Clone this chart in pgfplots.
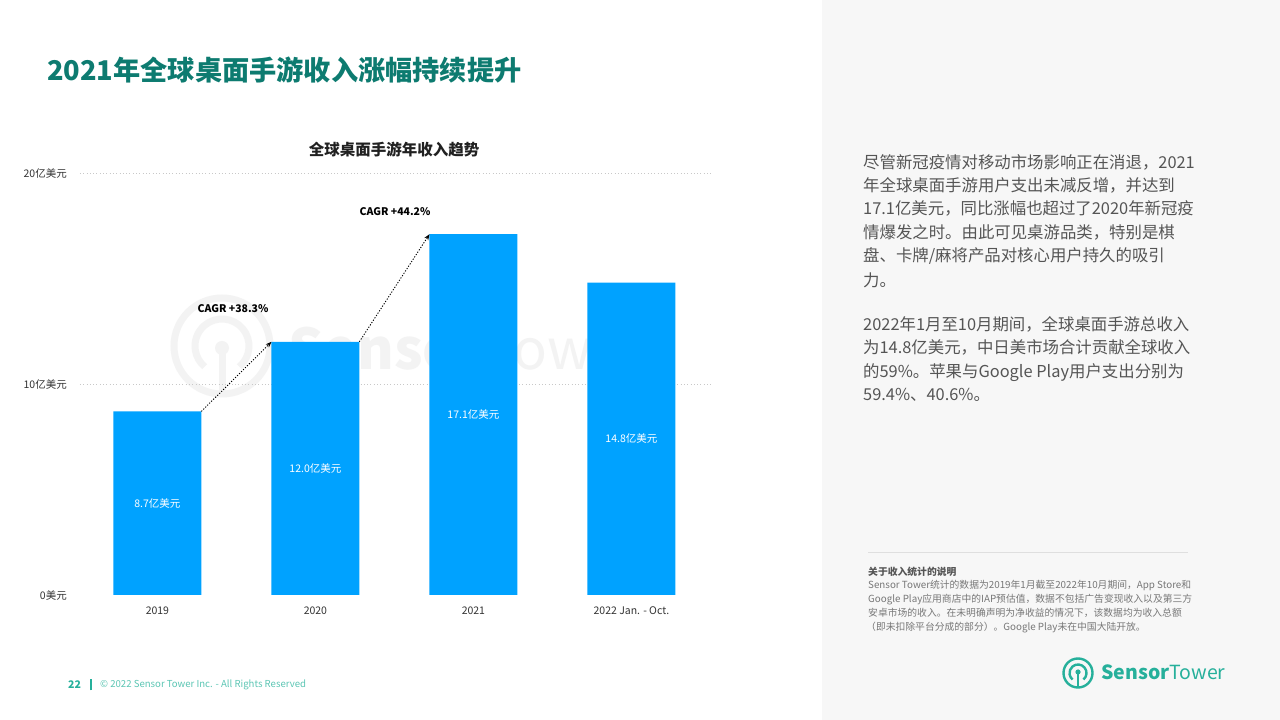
\documentclass[border=0pt]{standalone}
\usepackage{fontspec}
\setmainfont{Noto Sans CJK SC}
\usepackage{pgfplots}
\pgfplotsset{compat=1.18}
\usetikzlibrary{arrows.meta}
\definecolor{barblue}{HTML}{00A2FF}
\definecolor{titleteal}{HTML}{0D7B70}
\definecolor{logoteal}{HTML}{26B09B}
\definecolor{footteal}{HTML}{5CC6B4}
\definecolor{panel}{HTML}{F7F7F7}
\definecolor{wm}{HTML}{F3F3F3}
\definecolor{gridgray}{HTML}{C8C8C8}
\definecolor{bodygray}{HTML}{555555}
\definecolor{notegray}{HTML}{777777}
\definecolor{labeldark}{HTML}{333333}
\newcommand{\fs}[1]{\fontsize{#1}{#1}\selectfont}
\pgfplotsset{/pgf/number format/assume math mode=true}

\begin{document}
\begin{tikzpicture}[x=1pt,y=1pt]
\fill[white] (0,0) rectangle (1280,720);
\path[use as bounding box] (0,0) rectangle (1280,720);
\fill[panel] (822,0) rectangle (1280,720);

% page title
\node[anchor=west, inner sep=0, text=titleteal, font=\fs{27.2}\bfseries] at (47,650) {2021年全球桌面手游收入涨幅持续提升};

% watermark behind the bars
\begin{scope}[draw=wm, line width=7]
  \draw (222,374) circle (48);
  \draw ([shift={(-50:27)}]222,374) arc[start angle=-50, end angle=230, radius=27];
  \draw (222,372) -- (222,329);
  \fill[wm] (222,372) circle (7);
\end{scope}
\node[anchor=base west, inner sep=0, text=wm, font=\fs{56}] at (288,350) {\textbf{Sensor}Tower};

% chart title
\node[inner sep=0, text=black!87, font=\fs{15.5}\bfseries] at (394,570) {全球桌面手游年收入趋势};

\begin{axis}[
  at={(80pt,125pt)}, anchor=south west,
  scale only axis, width=632pt, height=422pt,
  xmin=-0.49, xmax=3.51, ymin=0, ymax=20,
  axis line style={draw=none}, major tick style={draw=none},
  ytick={10,20}, yticklabels={10亿美元,20亿美元},
  extra y ticks={0}, extra y tick labels={0美元},
  extra y tick style={grid=none},
  ymajorgrids,
  grid style={draw=gridgray, line width=0.9pt, dash pattern=on 0.9pt off 2.4pt},
  yticklabel style={anchor=east, inner sep=0pt, xshift=-13pt, font=\fs{10.5}, text=labeldark},
  xtick={0,1,2,3}, xticklabels={2019,2020,2021,2022 Jan. - Oct.},
  xticklabel style={anchor=center, inner sep=0pt, yshift=-11pt, font=\fs{10.5}, text=labeldark},
  ybar, bar width=88pt,
  nodes near coords={\pgfmathprintnumber[fixed,fixed zerofill,precision=1]{\pgfplotspointmeta}亿美元},
  visualization depends on={y \as \rawy},
  every node near coord/.append style={anchor=center, inner sep=0pt, text=white, font=\fs{10.5}, yshift={-10.55*\rawy*1pt}},
]
\addplot[fill=barblue, draw=none] coordinates {(0,8.7) (1,12.0) (2,17.1) (3,14.8)};
\draw[black, line width=0.9pt, dash pattern=on 1.2pt off 1.6pt, -{Stealth[length=6pt,width=4.5pt]}] (axis cs:0.278,8.7) -- (axis cs:0.722,12.0);
\draw[black, line width=0.9pt, dash pattern=on 1.2pt off 1.6pt, -{Stealth[length=6pt,width=4.5pt]}] (axis cs:1.278,12.0) -- (axis cs:1.722,17.1);
\end{axis}

% CAGR labels
\node[inner sep=0, font=\fs{10.5}\bfseries] at (233,411) {CAGR +38.3\%};
\node[inner sep=0, font=\fs{10.5}\bfseries] at (395,508) {CAGR +44.2\%};

% right panel text
\begin{scope}[every node/.style={anchor=west, inner sep=0, text=bodygray, font=\fs{16.4}, text height=14pt, text depth=2pt}]
  \node at (863,557) {尽管新冠疫情对移动市场影响正在消退，2021};
  \node at (863,534) {年全球桌面手游用户支出未减反增，并达到};
  \node at (863,511) {17.1亿美元，同比涨幅也超过了2020年新冠疫};
  \node at (863,487) {情爆发之时。由此可见桌游品类，特别是棋};
  \node at (863,464) {盘、卡牌/麻将产品对核心用户持久的吸引};
  \node at (863,439) {力。};
  \node at (863,395) {2022年1月至10月期间，全球桌面手游总收入};
  \node at (863,372) {为14.8亿美元，中日美市场合计贡献全球收入};
  \node at (863,348) {的59\%。苹果与Google Play用户支出分别为};
  \node at (863,325) {59.4\%、40.6\%。};
\end{scope}

% note on revenue statistics
\draw[gray!25, line width=0.8pt] (868,168) -- (1188,168);
\begin{scope}[every node/.style={anchor=west, inner sep=0, text=notegray, font=\fs{9.8}, text height=8.8pt, text depth=1.2pt}]
  \node[text=bodygray, font=\fs{9.8}\bfseries] at (868,148) {关于收入统计的说明};
  \node at (868,135) {Sensor Tower统计的数据为2019年1月截至2022年10月期间，App Store和};
  \node at (868,121) {Google Play应用商店中的IAP预估值，数据不包括广告变现收入以及第三方};
  \node at (868,107) {安卓市场的收入。在未明确声明为净收益的情况下，该数据均为收入总额};
  \node at (866,93) {（即未扣除平台分成的部分）。Google Play未在中国大陆开放。};
\end{scope}

% footer
\node[anchor=west, inner sep=0, text=logoteal, font=\fs{10.5}\bfseries] at (68,35) {22};
\draw[logoteal, line width=1.2pt] (91,29.5) -- (91,40.5);
\node[anchor=west, inner sep=0, text=footteal, font=\fs{9.6}] at (100,35) {© 2022 Sensor Tower Inc. - All Rights Reserved};

% logo
\begin{scope}[draw=logoteal, line width=2.4]
  \draw (1078,47) circle (14.5);
  \draw ([shift={(-50:8.5)}]1078,47) arc[start angle=-50, end angle=230, radius=8.5];
  \draw (1078,48) -- (1078,33);
  \fill[logoteal] (1078,48) circle (2.6);
\end{scope}
\node[anchor=base west, inner sep=0, text=logoteal, font=\fs{19.5}] at (1101,40) {\textbf{Sensor}Tower};
\end{tikzpicture}
\end{document}
